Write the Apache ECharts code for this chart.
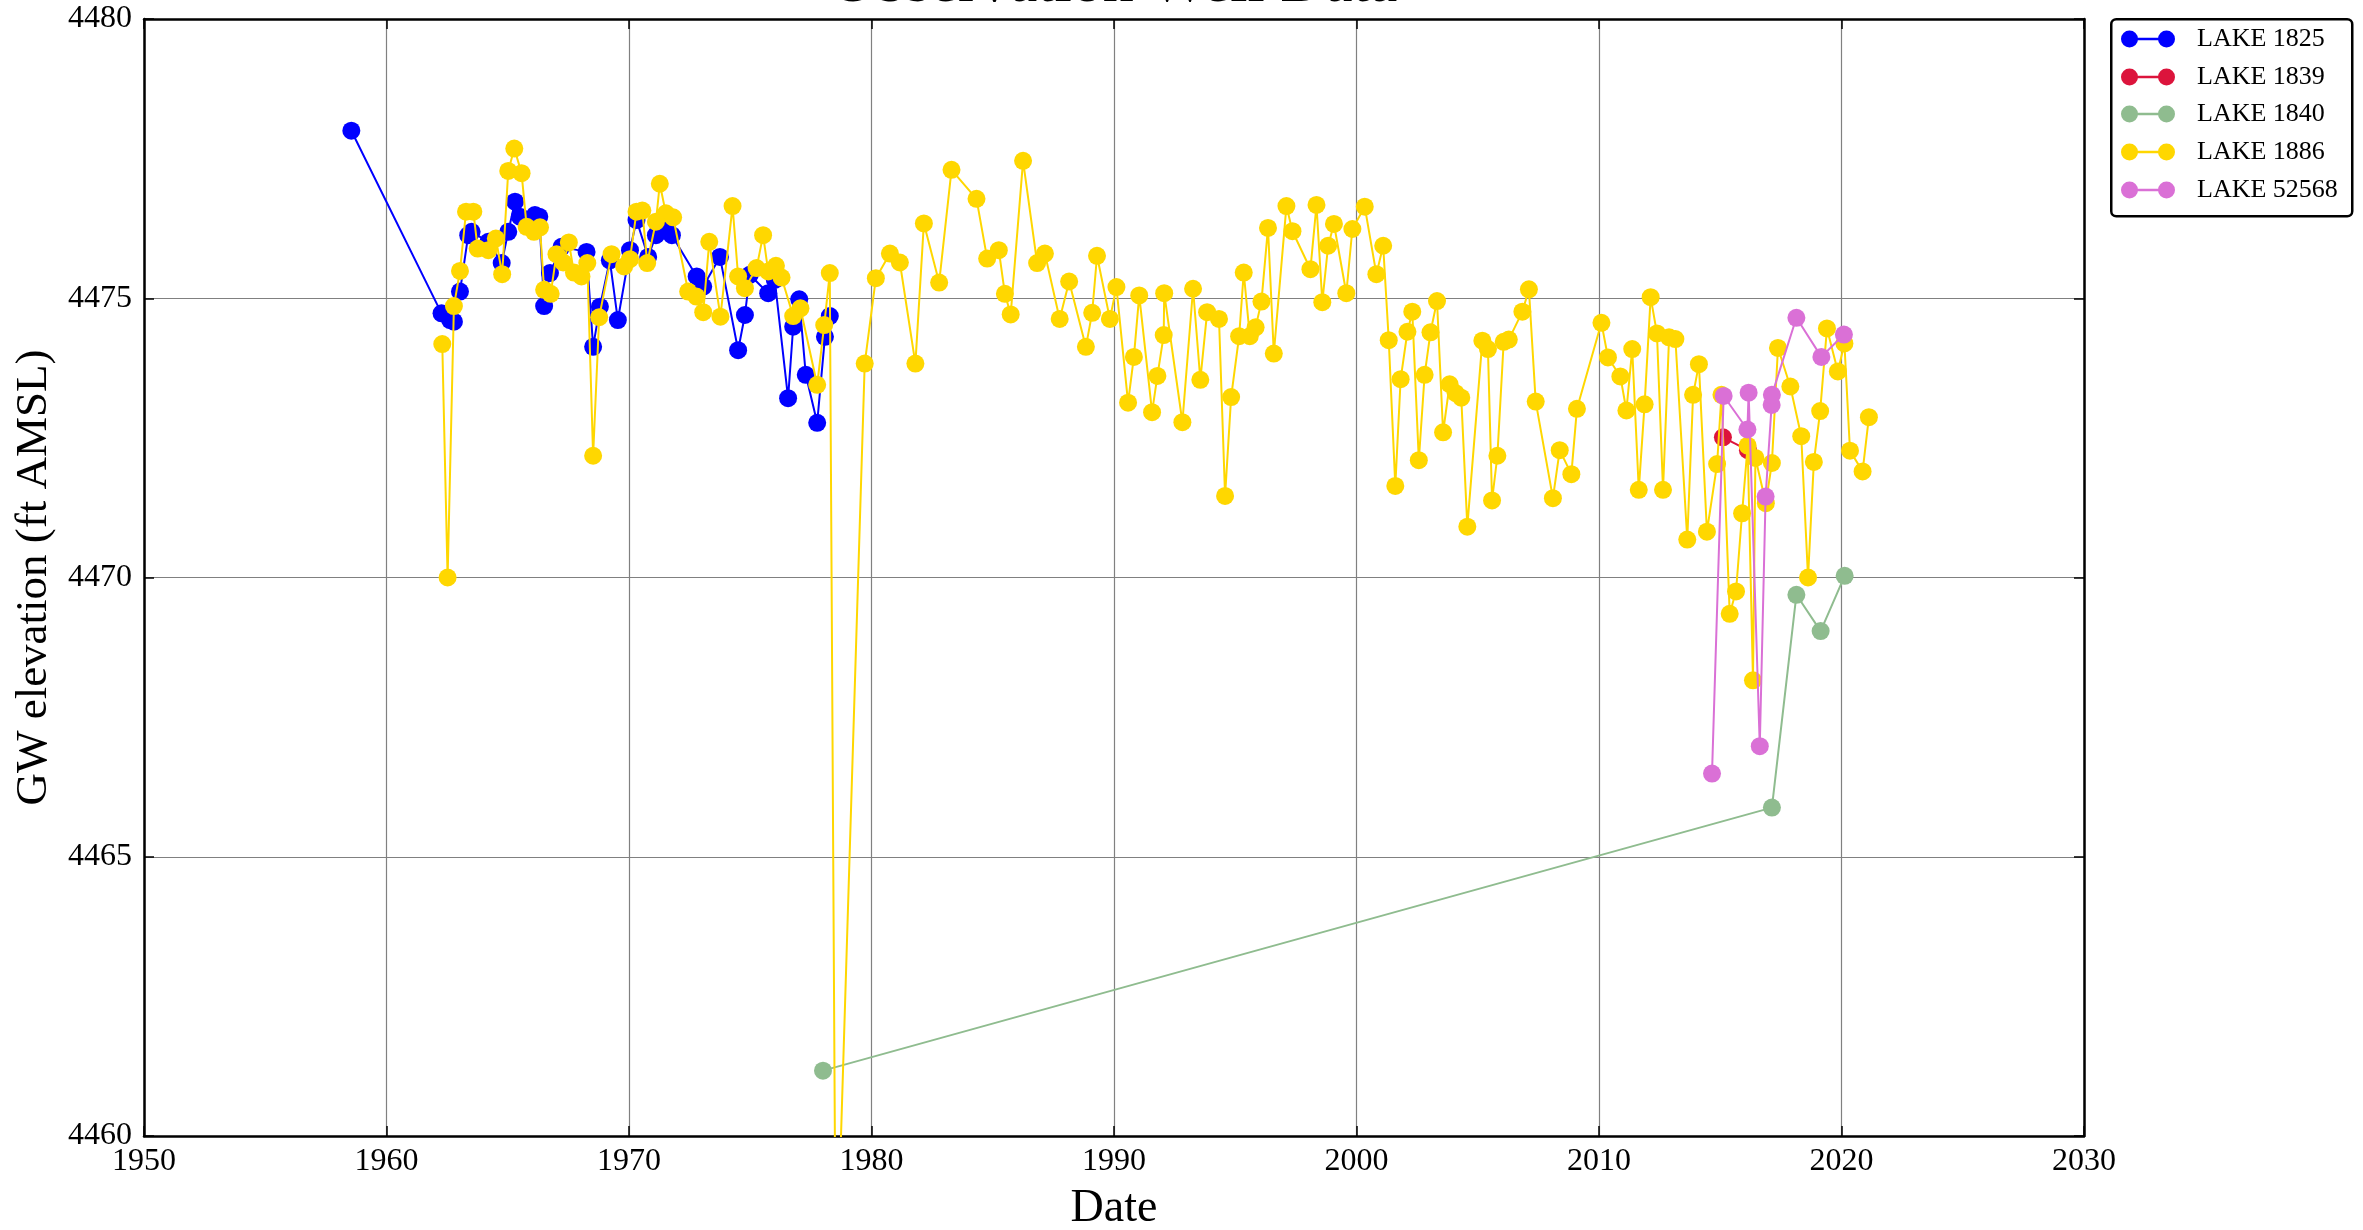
<!DOCTYPE html>
<html>
<head>
<meta charset="utf-8">
<script src="https://cdn.jsdelivr.net/npm/echarts@6/dist/echarts.min.js"></script>
<style>
html,body{margin:0;padding:0;background:#fff;}
#chart{width:2363px;height:1230px;}
</style>
</head>
<body>
<div id="chart"></div>
<script>
// ---- data ----
const xTicks = [1950, 1960, 1970, 1980, 1990, 2000, 2010, 2020, 2030];
const yTicks = [4460, 4465, 4470, 4475, 4480];

const names = ['LAKE 1825', 'LAKE 1839', 'LAKE 1840', 'LAKE 1886', 'LAKE 52568'];
const colors = ['#0000FF', '#DC143C', '#8FBC8F', '#FFD700', '#DA70D6'];

const lake1825Years = [1958.55,1962.27,1962.62,1962.78,1963.03,1963.37,1963.51,1964.20,1964.75,1965.02,1965.30,1965.50,1966.12,1966.30,1966.50,1966.74,1967.22,1968.25,1968.52,1968.80,1969.21,1969.54,1970.04,1970.31,1970.79,1971.11,1971.52,1971.77,1972.79,1973.06,1973.75,1974.50,1974.78,1974.98,1975.74,1976.01,1976.56,1976.77,1977.02,1977.29,1977.76,1978.08,1978.28];
const lake1825Values = [4478.00,4474.73,4474.61,4474.58,4475.12,4476.13,4476.19,4476.01,4475.63,4476.19,4476.73,4476.46,4476.49,4476.46,4474.86,4475.45,4475.92,4475.83,4474.13,4474.85,4475.68,4474.61,4475.86,4476.40,4475.74,4476.13,4476.25,4476.13,4475.39,4475.21,4475.74,4474.07,4474.70,4475.42,4475.09,4475.33,4473.21,4474.49,4474.98,4473.63,4472.77,4474.31,4474.68];

const lake1839Years = [2015.11, 2016.14];
const lake1839Values = [4472.51, 4472.28];

const lake1840Years = [1978.00, 2017.13, 2018.14, 2019.14, 2020.13];
const lake1840Values = [4461.17, 4465.88, 4469.69, 4469.04, 4470.03];

const lake1886Years = [1962.30,1962.52,1962.78,1963.03,1963.28,1963.58,1963.76,1964.20,1964.51,1964.77,1965.02,1965.27,1965.57,1965.78,1966.08,1966.33,1966.50,1966.77,1967.01,1967.29,1967.52,1967.73,1968.04,1968.28,1968.52,1968.77,1969.28,1969.80,1970.04,1970.31,1970.55,1970.75,1971.11,1971.27,1971.52,1971.82,1972.44,1972.78,1973.06,1973.31,1973.77,1974.27,1974.50,1974.78,1975.26,1975.53,1975.74,1976.06,1976.29,1976.77,1977.07,1977.76,1978.05,1978.28,1978.53,1979.72,1980.18,1980.76,1981.17,1981.81,1982.16,1982.79,1983.30,1984.33,1984.77,1985.25,1985.50,1985.74,1986.25,1986.83,1987.15,1987.76,1988.15,1988.84,1989.10,1989.30,1989.83,1990.10,1990.58,1990.82,1991.04,1991.57,1991.79,1992.05,1992.07,1992.82,1993.26,1993.56,1993.84,1994.33,1994.58,1994.83,1995.16,1995.35,1995.60,1995.84,1996.08,1996.35,1996.59,1997.11,1997.36,1998.10,1998.35,1998.59,1998.83,1999.07,1999.58,1999.83,2000.34,2000.82,2001.10,2001.33,2001.60,2001.82,2002.10,2002.30,2002.57,2002.81,2003.05,2003.32,2003.57,2003.84,2004.09,2004.32,2004.57,2005.19,2005.42,2005.59,2005.81,2006.07,2006.28,2006.84,2007.11,2007.39,2008.10,2008.38,2008.86,2009.09,2010.10,2010.37,2010.88,2011.13,2011.37,2011.64,2011.88,2012.13,2012.39,2012.64,2012.89,2013.15,2013.64,2013.88,2014.12,2014.45,2014.87,2015.05,2015.39,2015.65,2015.90,2016.13,2016.35,2016.45,2016.88,2017.13,2017.38,2017.89,2018.34,2018.62,2018.86,2019.12,2019.40,2019.85,2020.12,2020.35,2020.87,2021.13];
const lake1886Values = [4474.18,4470.00,4474.86,4475.49,4476.55,4476.55,4475.89,4475.86,4476.07,4475.43,4477.28,4477.68,4477.24,4476.28,4476.19,4476.27,4475.15,4475.08,4475.79,4475.64,4476.00,4475.46,4475.39,4475.63,4472.18,4474.66,4475.79,4475.57,4475.70,4476.55,4476.57,4475.63,4476.37,4477.05,4476.52,4476.45,4475.12,4475.03,4474.75,4476.01,4474.67,4476.65,4475.39,4475.18,4475.54,4476.13,4475.48,4475.58,4475.37,4474.68,4474.82,4473.45,4474.52,4475.45,4457.00,4473.83,4475.36,4475.80,4475.64,4473.83,4476.34,4475.28,4477.30,4476.78,4475.71,4475.86,4475.08,4474.71,4477.46,4475.63,4475.80,4474.63,4475.30,4474.13,4474.74,4475.76,4474.63,4475.20,4473.13,4473.95,4475.05,4472.96,4473.61,4474.34,4475.09,4472.78,4475.17,4473.54,4474.75,4474.63,4471.46,4473.23,4474.32,4475.46,4474.32,4474.48,4474.94,4476.26,4474.01,4476.65,4476.20,4475.52,4476.67,4474.93,4475.94,4476.33,4475.09,4476.24,4476.64,4475.43,4475.94,4474.25,4471.64,4473.55,4474.40,4474.76,4472.10,4473.63,4474.39,4474.95,4472.60,4473.46,4473.30,4473.22,4470.91,4474.24,4474.09,4471.38,4472.18,4474.22,4474.26,4474.76,4475.16,4473.15,4471.42,4472.28,4471.85,4473.02,4474.56,4473.94,4473.60,4472.99,4474.09,4471.57,4473.10,4475.02,4474.37,4471.57,4474.30,4474.27,4470.68,4473.27,4473.82,4470.82,4472.03,4473.27,4469.35,4469.75,4471.15,4472.36,4468.16,4472.14,4471.33,4472.05,4474.11,4473.42,4472.53,4470.00,4472.07,4472.98,4474.46,4473.69,4474.19,4472.27,4471.90,4472.87];

const lake52568Years = [2014.66, 2015.14, 2016.12, 2016.17, 2016.63, 2016.87, 2017.12, 2017.13, 2018.14, 2019.17, 2020.10];
const lake52568Values = [4466.49, 4473.25, 4472.65, 4473.31, 4466.98, 4471.45, 4473.09, 4473.27, 4474.65, 4473.95, 4474.35];

// ---- build chart ----
const FONT = '"Liberation Serif", "Times New Roman", "DejaVu Serif", serif';
const pairs = (xs, ys) => xs.map((x, i) => [x, ys[i]]);
const seriesData = [
  pairs(lake1825Years, lake1825Values),
  pairs(lake1839Years, lake1839Values),
  pairs(lake1840Years, lake1840Values),
  pairs(lake1886Years, lake1886Values),
  pairs(lake52568Years, lake52568Values)
];

const grid = {left: 144, right: 279, top: 19, bottom: 94, containLabel: false, outerBoundsMode: 'none'};
const xMin = xTicks[0], xMax = xTicks[xTicks.length - 1], xInt = xTicks[1] - xTicks[0];
const yMin = yTicks[0], yMax = yTicks[yTicks.length - 1], yInt = yTicks[1] - yTicks[0];

const axisLineStyle = {color: '#000', width: 2.5};
const tickStyle = {color: '#000', width: 1.5};
const gridLine = {show: true, lineStyle: {color: '#808080', width: 1.2}};

const chart = echarts.init(document.getElementById('chart'), null, {renderer: 'canvas'});

// legend drawn as graphic (matplotlib style: two markers joined by a line)
const legendX = 2110, legendY = 18, legendW = 241, legendH = 197;
const rowY = [39, 77, 114, 152, 190];
const legendGraphics = [{
  type: 'rect', left: legendX, top: legendY, z: 100,
  shape: {width: legendW, height: legendH, r: 5},
  style: {fill: '#fff', stroke: '#000', lineWidth: 2.5}
}];
names.forEach((n, i) => {
  const y = rowY[i];
  legendGraphics.push({type: 'line', z: 101, shape: {x1: 2129.5, y1: y, x2: 2166.5, y2: y}, style: {stroke: colors[i], lineWidth: 2.5}});
  legendGraphics.push({type: 'circle', z: 102, shape: {cx: 2129.5, cy: y, r: 8.5}, style: {fill: colors[i]}});
  legendGraphics.push({type: 'circle', z: 102, shape: {cx: 2166.5, cy: y, r: 8.5}, style: {fill: colors[i]}});
  legendGraphics.push({type: 'text', z: 102, x: 2197, y: y, style: {text: n, font: '26px ' + FONT, fill: '#000', align: 'left', verticalAlign: 'middle'}});
});

const option = {
  animation: false,
  backgroundColor: '#ffffff',
  grid: grid,
  graphic: [
    {type: 'text', x: 1114, y: -15, z: 50,
     style: {text: 'Observation Well Data', font: '62px ' + FONT, fill: '#000', align: 'center', verticalAlign: 'middle'}}
  ].concat(legendGraphics),
  xAxis: [{
    type: 'value', min: xMin, max: xMax, interval: xInt, position: 'bottom',
    name: 'Date', nameLocation: 'middle', nameGap: 50,
    nameTextStyle: {fontFamily: FONT, fontSize: 46, color: '#000'},
    axisLine: {show: true, onZero: false, lineStyle: axisLineStyle},
    axisTick: {show: true, inside: true, length: 10, lineStyle: tickStyle},
    axisLabel: {fontFamily: FONT, fontSize: 32, color: '#000', margin: 10, formatter: v => String(v)},
    splitLine: gridLine
  }, {
    type: 'value', min: xMin, max: xMax, interval: xInt, position: 'top',
    axisLine: {show: true, onZero: false, lineStyle: axisLineStyle},
    axisTick: {show: true, inside: true, length: 10, lineStyle: tickStyle},
    axisLabel: {show: false}, splitLine: {show: false}
  }],
  yAxis: [{
    type: 'value', min: yMin, max: yMax, interval: yInt, position: 'left',
    name: 'GW elevation (ft AMSL)', nameLocation: 'middle', nameGap: 84,
    nameTextStyle: {fontFamily: FONT, fontSize: 45, color: '#000'},
    axisLine: {show: true, onZero: false, lineStyle: axisLineStyle},
    axisTick: {show: true, inside: true, length: 10, lineStyle: tickStyle},
    axisLabel: {fontFamily: FONT, fontSize: 32, color: '#000', margin: 12, formatter: v => String(v)},
    splitLine: gridLine
  }, {
    type: 'value', min: yMin, max: yMax, interval: yInt, position: 'right',
    axisLine: {show: true, onZero: false, lineStyle: axisLineStyle},
    axisTick: {show: true, inside: true, length: 10, lineStyle: tickStyle},
    axisLabel: {show: false}, splitLine: {show: false}
  }],
  series: names.map((n, i) => ({
    type: 'line', name: n, data: seriesData[i],
    xAxisIndex: 0, yAxisIndex: 0,
    z: 3 + i,
    clip: true,
    symbol: 'circle', symbolSize: 18, showSymbol: true, showAllSymbol: true,
    lineStyle: {color: colors[i], width: 2},
    itemStyle: {color: colors[i]},
    emphasis: {disabled: true},
    silent: true
  }))
};
chart.setOption(option);
</script>
</body>
</html>
